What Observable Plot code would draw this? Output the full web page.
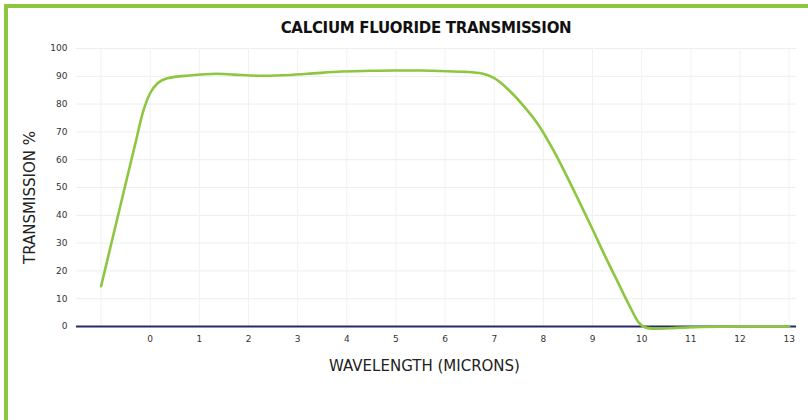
<!DOCTYPE html>
<html>
<head>
<meta charset="utf-8">
<script src="https://cdn.jsdelivr.net/npm/d3@7"></script>
<script src="https://cdn.jsdelivr.net/npm/@observablehq/plot@0.6"></script>
<style>
  html, body { margin: 0; padding: 0; background: #fff; }
  #wrap { position: relative; width: 808px; height: 420px; overflow: hidden; background: #fff; font-family: "DejaVu Sans", sans-serif; }
  #bl { position: absolute; left: 4px; top: 4px; width: 4px; height: 416px; background: #8dc63f; }
  #bt { position: absolute; left: 4px; top: 4px; width: 804px; height: 4px; background: #8dc63f; }
  #title { position: absolute; top: 19px; left: 0; width: 808px; padding-left: 44px; box-sizing: border-box; text-align: center; font-weight: bold; font-size: 15px; color: #111; letter-spacing: -0.3px; }
  #chart { position: absolute; left: 0; top: 40px; }
</style>
</head>
<body>
<div id="wrap">
  <div id="title">CALCIUM FLUORIDE TRANSMISSION</div>
  <div id="chart"></div>
  <div id="bl"></div>
  <div id="bt"></div>
</div>
<script>
const wavelength = [-1, -0.6, -0.3, -0.15, 0, 0.15, 0.35, 0.8, 1.35, 1.7, 2.2, 2.7, 3.2, 3.9, 4.5, 5, 5.5, 5.9, 6.4, 6.75, 7.0, 7.3, 7.6, 7.9, 8.2, 8.45, 8.7, 9.0, 9.25, 9.5, 9.75, 9.95, 10.1, 10.3, 10.7, 11.2, 12, 13];
const transmission = [14.5, 44, 66, 77, 84, 87.5, 89.3, 90.3, 90.9, 90.6, 90.2, 90.4, 90.9, 91.7, 92, 92.1, 92.1, 91.9, 91.6, 91, 89.3, 85, 79.3, 72.5, 63.5, 55, 46, 35, 25.5, 16.5, 7.5, 1.2, -0.5, -0.8, -0.5, -0.2, 0, 0];
const xTicks = [0, 1, 2, 3, 4, 5, 6, 7, 8, 9, 10, 11, 12, 13];
const yTicks = [0, 10, 20, 30, 40, 50, 60, 70, 80, 90, 100];
const xLabel = "WAVELENGTH (MICRONS)";
const yLabel = "TRANSMISSION %";

const data = wavelength.map((w, i) => ({w, t: transmission[i]}));

const chart = Plot.plot({
  width: 808,
  height: 380,
  marginLeft: 76,
  marginRight: 12,
  marginTop: 8,
  marginBottom: 94,
  style: {fontFamily: "DejaVu Sans, sans-serif", background: "transparent"},
  x: {domain: [-1.5, 13.15]},
  y: {domain: [0, 100]},
  marks: [
    Plot.gridY(yTicks, {stroke: "#eceeee", strokeOpacity: 1}),
    Plot.gridX([-1, ...xTicks], {stroke: "#f0f2f2", strokeOpacity: 1}),
    Plot.axisY(yTicks, {tickSize: 0, tickPadding: 9, fontSize: 9, fill: "#333", label: null}),
    Plot.axisX(xTicks, {tickSize: 0, tickPadding: 9, fontSize: 9, fill: "#333", label: null}),
    Plot.ruleY([0], {stroke: "#262a66", strokeWidth: 2.2}),
    Plot.line(data, {x: "w", y: "t", stroke: "#8dc63f", strokeWidth: 2.6, curve: "monotone-x"}),
    Plot.text([yLabel], {frameAnchor: "left", textAnchor: "middle", rotate: -90, dx: -46, dy: 10, fontSize: 15, fill: "#222", text: d => d}),
    Plot.text([xLabel], {frameAnchor: "bottom", dx: -12, dy: 44, fontSize: 15, fill: "#222", text: d => d})
  ]
});
document.getElementById("chart").appendChild(chart);
</script>
</body>
</html>
